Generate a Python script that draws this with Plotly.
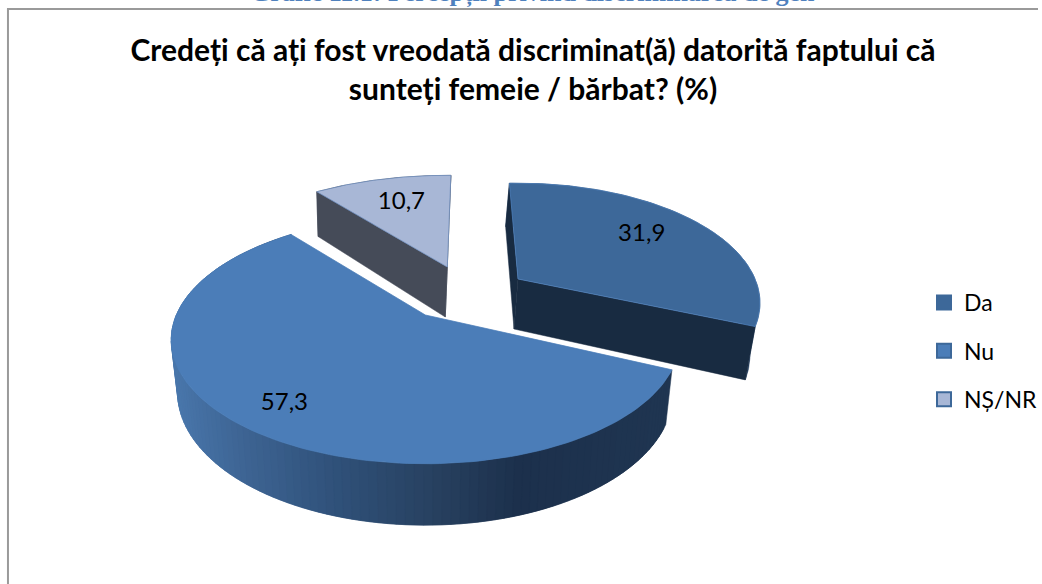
import numpy as np
import plotly.graph_objects as go

categories = ["Da", "Nu", "NȘ/NR"]
values = [31.9, 57.3, 10.7]
title_lines = ["Credeți că ați fost vreodată discriminat(ă) datorită faptului că",
               "sunteți femeie / bărbat? (%)"]
caption = "Grafic 11.1: Percepții privind discriminarea de gen"

# drawing style for each slice (projected exploded 3-D pie, canvas pixels)
apex_x = [520, 427, 449]
apex_y = [279, 315, 267]
radius_x = [238, 250, 249]
radius_y = [115, 119, 110]
rotation = [-2.5, 0, 1]
depth = [50, 51, 50]
bottom_dx = [-4, 0, -2]
label_r = [0.72, 0.80, 0.73]
label_turn = [-2.9, 0, 1.5]
LABEL_DY = 3
top_colors = ["#3D6899", "#4B7DB8", "#A8B7D6"]
wall_colors = ["#182B41", "#1E3450", "#454B58"]
outer_colors = ["#1E3A5C", "#1E3450", "#454B58"]
edge_colors = ["#4F81BD", "#4B7DB8", "#6F8FBF"]
legend_colors = ["#3D6899", "#4B7DB8", "#A8B7D6"]
PERSP = 0.2
BOTTOM_SX = 0.975
BOTTOM_SY = 1.07
# shading of the large outer wall, by canvas x
shade_x = [170, 250, 350, 450, 530, 670]
shade_r = [74, 61, 47, 39, 28, 31]
shade_g = [120, 100, 80, 64, 48, 53]
shade_b = [173, 147, 120, 95, 76, 81]


def project(i, theta_deg, r=1.0, bottom=False):
    t = np.radians(np.asarray(theta_deg, dtype=float) + rotation[i])
    u, v = r * np.sin(t), r * np.cos(t)
    k = 1 / (1 + PERSP * v)
    x, y = radius_x[i] * u * k, -radius_y[i] * v * k
    if bottom:
        return apex_x[i] + bottom_dx[i] + BOTTOM_SX * x, apex_y[i] + depth[i] + BOTTOM_SY * y
    return apex_x[i] + x, apex_y[i] + y


def poly(xs, ys, color, line=None, width=0.5):
    return go.Scatter(x=list(xs) + [xs[0]], y=list(ys) + [ys[0]], mode="lines", fill="toself",
                      fillcolor=color, line=dict(color=line or color, width=width),
                      showlegend=False, hoverinfo="skip")


fig = go.Figure()
total = sum(values)
edges = np.concatenate([[0], np.cumsum(values) / total * 360])
order = [2, 0, 1]
for i in order:
    a0, a1 = edges[i], edges[i + 1]
    arc = np.linspace(a0, a1, 140)
    tx, ty = project(i, arc)
    bx, by = project(i, arc, bottom=True)
    ax_b, ay_b = apex_x[i] + bottom_dx[i], apex_y[i] + depth[i]
    if i == 1:
        steps = np.linspace(a0, a1, 121)
        gap = steps[1] - steps[0]
        # painted from the far end so that each band overlaps the previous one
        for s0 in steps[:-1][::-1]:
            seg = np.linspace(s0, min(s0 + 2 * gap, a1), 5)
            sx, sy = project(i, seg)
            qx, qy = project(i, seg, bottom=True)
            mid = project(i, s0 + gap / 2)[0]
            c = [int(round(np.interp(mid, shade_x, ch))) for ch in (shade_r, shade_g, shade_b)]
            col = f"rgb({c[0]},{c[1]},{c[2]})"
            fig.add_trace(poly(np.r_[sx, qx[::-1]], np.r_[sy, qy[::-1]], col))
    else:
        fig.add_trace(poly(np.r_[tx, bx[::-1]], np.r_[ty, by[::-1]], outer_colors[i]))
        fig.add_trace(poly([apex_x[i], tx[0], bx[0], ax_b], [apex_y[i], ty[0], by[0], ay_b],
                           wall_colors[i]))
        fig.add_trace(poly([apex_x[i], tx[-1], bx[-1], ax_b], [apex_y[i], ty[-1], by[-1], ay_b],
                           wall_colors[i]))
    fig.add_trace(poly(np.r_[apex_x[i], tx], np.r_[apex_y[i], ty], top_colors[i], edge_colors[i], 0.75))

# data labels
for i in range(3):
    mid = (edges[i] + edges[i + 1]) / 2 + label_turn[i]
    lx, ly = project(i, mid, label_r[i])
    fig.add_trace(go.Scatter(x=[lx], y=[ly + LABEL_DY], mode="text",
                             text=[f"{values[i]:.1f}".replace(".", ",")],
                             textposition="middle center", showlegend=False, hoverinfo="skip",
                             textfont=dict(family="Lato", size=24, color="#000000")))

# legend entries
for i, name in enumerate(categories):
    fig.add_trace(go.Scatter(x=[None], y=[None], mode="markers", name=name, legendgroup=name,
                             marker=dict(symbol="square", size=14, color=legend_colors[i],
                                         line=dict(color="#3D6899", width=2))))

fig.add_annotation(x=535, y=10, xref="x", yref="y", text=f"<b>{caption}</b>", showarrow=False,
                   yanchor="bottom", font=dict(family="Liberation Serif", size=26, color="#4F81BD"))

# chart frame
fig.add_shape(type="line", xref="x", yref="y", x0=8, x1=8, y0=9, y1=584, line=dict(color="#9A9A9A", width=2))
fig.add_shape(type="line", xref="x", yref="y", x0=7, x1=1042, y0=9, y1=9, line=dict(color="#9A9A9A", width=2))

fig.update_layout(
    width=1042, height=584, margin=dict(l=0, r=0, t=0, b=0), autosize=False,
    paper_bgcolor="#FFFFFF", plot_bgcolor="#FFFFFF",
    title=dict(text="<b>" + "<br>".join(title_lines) + "</b>", x=533 / 1042, xanchor="center",
               y=1 - 61 / 584, yanchor="top", font=dict(family="Lato", size=30, color="#000000")),
    xaxis=dict(range=[0, 1042], visible=False, fixedrange=True),
    yaxis=dict(range=[584, 0], visible=False, fixedrange=True),
    legend=dict(x=928 / 1042, y=1 - 281 / 584, xanchor="left", yanchor="top", itemsizing="trace",
                itemwidth=30, tracegroupgap=15.5, traceorder="grouped", bgcolor="rgba(0,0,0,0)",
                font=dict(family="Lato", size=23, color="#000000")),
    hovermode=False,
)
fig.write_html("out.html", config={"displayModeBar": False},
               post_script="document.body.style.margin='0';document.documentElement.style.overflow='hidden';")
